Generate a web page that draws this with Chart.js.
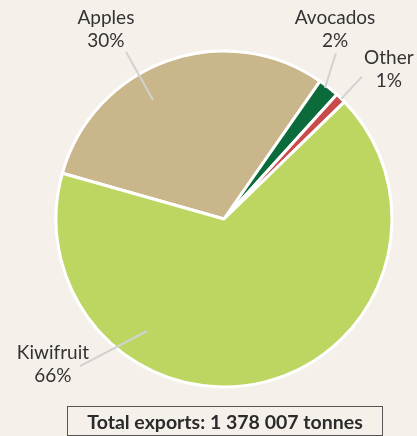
<!DOCTYPE html>
<html>
<head>
<meta charset="utf-8">
<script src="https://cdn.jsdelivr.net/npm/chart.js@4/dist/chart.umd.min.js"></script>
<style>
  html, body { margin: 0; padding: 0; background: #f5f1ea; }
  #wrap { position: relative; width: 417px; height: 436px; }
  #total {
    position: absolute; left: 67px; top: 406px; width: 314px; height: 28px;
    border: 1px solid #555; box-sizing: content-box;
    font: bold 19.5px Lato, sans-serif; color: #2b2b2b;
    text-align: center; line-height: 29px;
  }
</style>
</head>
<body>
<div id="wrap">
  <canvas id="pie" width="417" height="436"></canvas>
  <div id="total">Total exports: 1 378 007 tonnes</div>
</div>
<script>
// export shares in percent
const categories = ['Apples', 'Avocados', 'Other', 'Kiwifruit'];
const shares = [30, 2, 1, 66];
const colours = ['#c9b68a', '#0c6b3a', '#c94b4b', '#bdd662'];

// callout placement: [angle from top in degrees, radius as fraction of pie radius]
const callouts = [
  { from: [-30.8, 0.825], to: [-30.4, 1.152], text: [-31.9, 1.33] },
  { from: [37.6, 0.985], to: [34.0, 1.192], text: [30.3, 1.31] },
  { from: [44.3, 1.0], to: [44.1, 1.18], text: [47.7, 1.327] },
  { from: [-145.5, 0.809], to: [-135.6, 1.225], text: [-130.3, 1.335] }
];

const calloutPlugin = {
  id: 'callouts',
  afterDatasetsDraw(chart) {
    const ctx = chart.ctx;
    const arc = chart.getDatasetMeta(0).data[0];
    const cx = arc.x, cy = arc.y, R = arc.outerRadius;
    const pt = ([deg, f]) => {
      const a = (deg - 90) * Math.PI / 180;
      return [cx + Math.cos(a) * R * f, cy + Math.sin(a) * R * f];
    };
    ctx.save();
    callouts.forEach((c, i) => {
      const p0 = pt(c.from), p1 = pt(c.to), pt2 = pt(c.text);
      ctx.strokeStyle = '#d2d2d2';
      ctx.lineWidth = 2;
      ctx.beginPath();
      ctx.moveTo(p0[0], p0[1]);
      ctx.lineTo(p1[0], p1[1]);
      ctx.stroke();

      ctx.fillStyle = '#333';
      ctx.font = '19px Lato, sans-serif';
      ctx.textAlign = 'center';
      ctx.textBaseline = 'middle';
      ctx.fillText(categories[i], pt2[0], pt2[1] - 11.5);
      ctx.fillText(shares[i] + '%', pt2[0], pt2[1] + 11.5);
    });
    ctx.restore();
  }
};

new Chart(document.getElementById('pie'), {
  type: 'pie',
  data: {
    labels: categories,
    datasets: [{
      data: shares,
      backgroundColor: colours,
      borderColor: '#ffffff',
      borderWidth: 3
    }]
  },
  options: {
    responsive: false,
    animation: false,
    rotation: -74.2,
    radius: 168,
    layout: { padding: { left: 56, right: 25, top: 51, bottom: 49 } },
    plugins: {
      legend: { display: false },
      tooltip: { enabled: false }
    }
  },
  plugins: [calloutPlugin]
});
</script>
</body>
</html>
